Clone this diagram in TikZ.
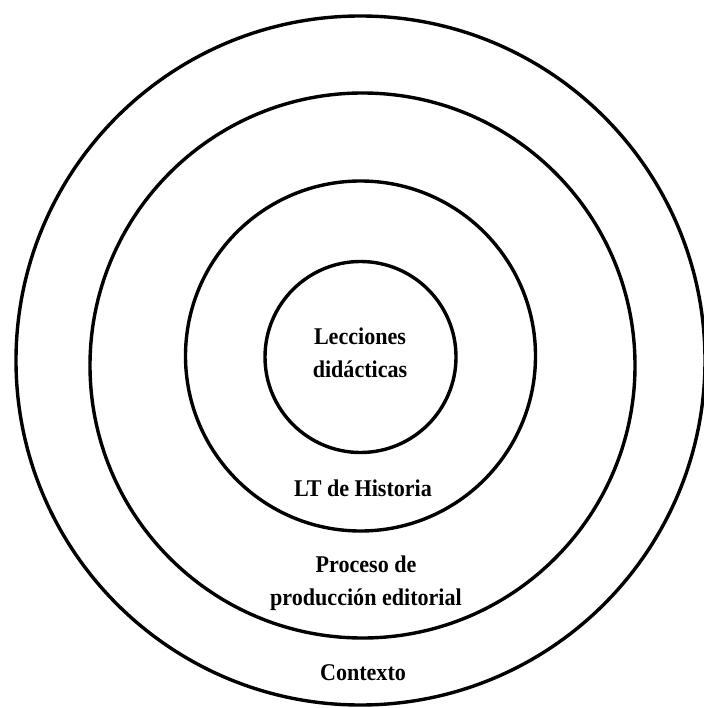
\documentclass[tikz,border=0pt]{standalone}
\usepackage{fontspec}
\setmainfont{Liberation Serif}
\begin{document}
\begin{tikzpicture}[x=1pt, y=-1pt,
    ring/.style={circle, draw, line width=3.4pt, inner sep=0pt},
    lbl/.style={align=center, xscale=0.92, font=\fontsize{24}{33}\selectfont\bfseries}
]
    \useasboundingbox (0,0) rectangle (703,708);

    % rings, outside in
    \node[ring, minimum size=689pt] (contexto) at (360.5,360.5) {};
    \node[ring, minimum size=545pt] (proceso) at (362.5,365.5) {};
    \node[ring, minimum size=350pt] (lt) at (360.5,356) {};
    \node[ring, minimum size=191pt] (lecciones) at (360.5,357) {};

    % labels
    \node[lbl] (tLecciones) at (360,353) {Lecciones\\didácticas};
    \node[lbl] (tLT) at (363,488) {LT de Historia};
    \node[lbl] (tProceso) at (366,583) {Proceso de\\producción editorial};
    \node[lbl] (tContexto) at (363,673) {Contexto};
\end{tikzpicture}
\end{document}
